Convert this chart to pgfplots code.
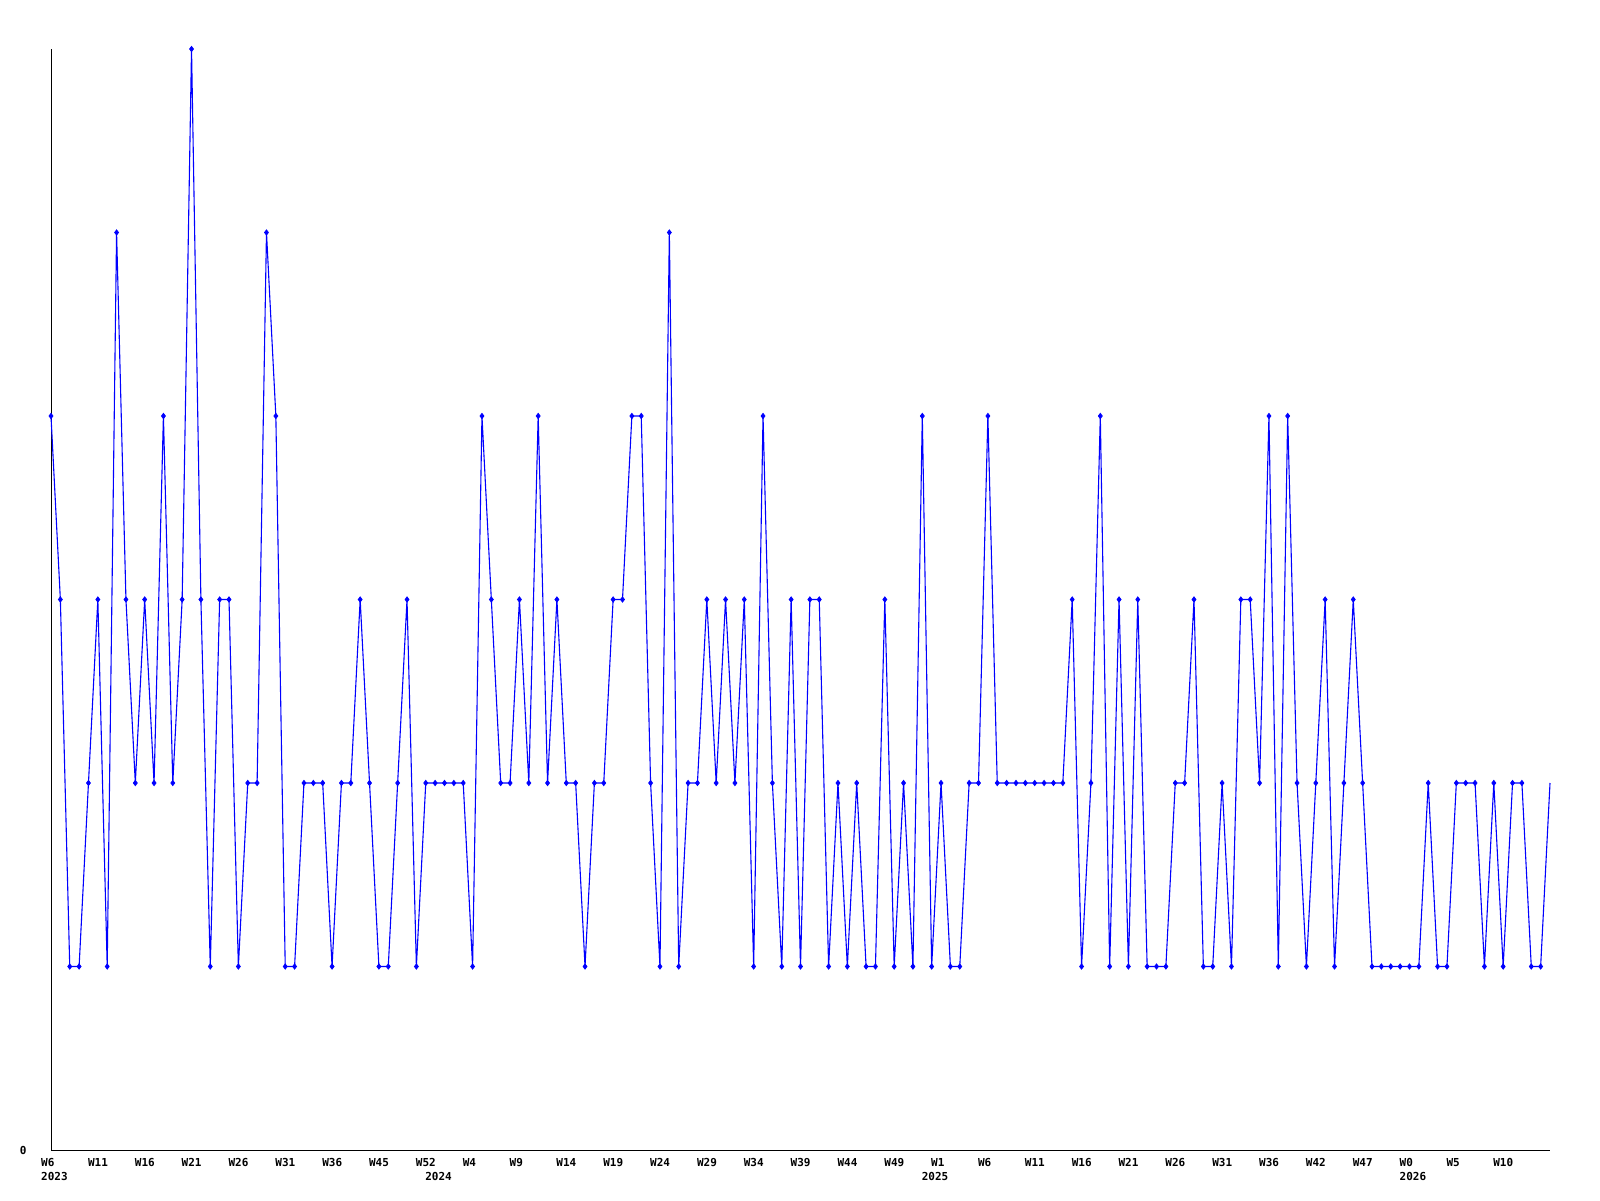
\documentclass[border=0pt]{standalone}
\usepackage{fontspec}
\usepackage{pgfplots}
\usepackage{pgfplotstable}
\pgfplotsset{compat=1.18}
\newfontfamily\lblfont{DejaVu Sans Mono}
\newcommand{\lblf}{\lblfont\bfseries\fontsize{5.5}{6.5}\selectfont}
\pgfplotstableread{
x y
0 4
1 3
2 1
3 1
4 2
5 3
6 1
7 5
8 3
9 2
10 3
11 2
12 4
13 2
14 3
15 6
16 3
17 1
18 3
19 3
20 1
21 2
22 2
23 5
24 4
25 1
26 1
27 2
28 2
29 2
30 1
31 2
32 2
33 3
34 2
35 1
36 1
37 2
38 3
39 1
40 2
41 2
42 2
43 2
44 2
45 1
46 4
47 3
48 2
49 2
50 3
51 2
52 4
53 2
54 3
55 2
56 2
57 1
58 2
59 2
60 3
61 3
62 4
63 4
64 2
65 1
66 5
67 1
68 2
69 2
70 3
71 2
72 3
73 2
74 3
75 1
76 4
77 2
78 1
79 3
80 1
81 3
82 3
83 1
84 2
85 1
86 2
87 1
88 1
89 3
90 1
91 2
92 1
93 4
94 1
95 2
96 1
97 1
98 2
99 2
100 4
101 2
102 2
103 2
104 2
105 2
106 2
107 2
108 2
109 3
110 1
111 2
112 4
113 1
114 3
115 1
116 3
117 1
118 1
119 1
120 2
121 2
122 3
123 1
124 1
125 2
126 1
127 3
128 3
129 2
130 4
131 1
132 4
133 2
134 1
135 2
136 3
137 1
138 2
139 3
140 2
141 1
142 1
143 1
144 1
145 1
146 1
147 2
148 1
149 1
150 2
151 2
152 2
153 1
154 2
155 1
156 2
157 2
158 1
159 1
160 2
}\datatable
\begin{document}
\begin{tikzpicture}
\path[use as bounding box] (0pt,0pt) rectangle (800pt,600pt);
\begin{axis}[
  at={(25.5pt,25pt)}, anchor=south west,
  scale only axis, width=749.5pt, height=550.5pt,
  xmin=0, xmax=160, ymin=0, ymax=6,
  axis lines=left,
  axis line style={-, black, line width=0.5pt},
  tick style={draw=none},
  major tick length=0pt,
  clip=false,
  ytick={0}, yticklabels={0},
  yticklabel style={font=\lblf, anchor=east, inner sep=0pt, xshift=-12pt},
  xtick={0,5,...,155},
  xticklabels={W6,W11,W16,W21,W26,W31,W36,W45,W52,W4,W9,W14,W19,W24,W29,W34,W39,W44,W49,W1,W6,W11,W16,W21,W26,W31,W36,W42,W47,W0,W5,W10},
  xticklabel style={font=\lblf, anchor=north west, inner sep=0pt, xshift=-5.1pt, yshift=-4pt},
]
\addplot[color={rgb,255:red,0;green,0;blue,255}, line width=0.55pt, mark=none] table[x=x,y=y] {\datatable};
\addplot[only marks, restrict x to domain=0:159, mark=diamond*, mark size=1.3pt, mark options={fill={rgb,255:red,0;green,0;blue,255}, draw={rgb,255:red,0;green,0;blue,255}}] table[x=x,y=y] {\datatable};
\node[anchor=north west, inner sep=0pt, font=\lblf, xshift=-5.1pt, yshift=-11pt] at (axis cs:0,0) {2023};
\node[anchor=north west, inner sep=0pt, font=\lblf, xshift=-5.1pt, yshift=-11pt] at (axis cs:41,0) {2024};
\node[anchor=north west, inner sep=0pt, font=\lblf, xshift=-5.1pt, yshift=-11pt] at (axis cs:94,0) {2025};
\node[anchor=north west, inner sep=0pt, font=\lblf, xshift=-5.1pt, yshift=-11pt] at (axis cs:145,0) {2026};
\end{axis}
\end{tikzpicture}
\end{document}
